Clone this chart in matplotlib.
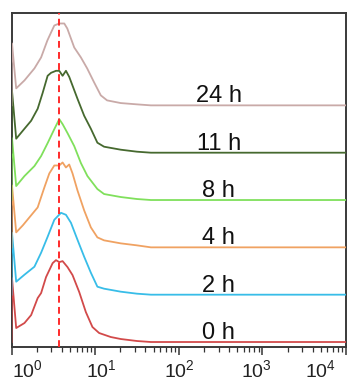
import numpy as np
import matplotlib
matplotlib.use("Agg")
import matplotlib.pyplot as plt
from matplotlib.transforms import ScaledTranslation

plt.rcParams['font.family'] = ['Liberation Sans', 'DejaVu Sans']
plt.rcParams['mathtext.fontset'] = 'custom'
plt.rcParams['mathtext.rm'] = 'Liberation Sans'
plt.rcParams['mathtext.it'] = 'Liberation Sans'

# ---- data (log10 fluorescence, relative counts) ----
labels = ["0 h", "2 h", "4 h", "8 h", "11 h", "24 h"]
colors = ["#d24a4a", "#38bde8", "#f0a262", "#80e05c", "#46692f", "#c9aaa8"]

log_0h = [0, 0.006, 0.056, 0.155, 0.235, 0.313, 0.354, 0.413, 0.492, 0.532, 0.571, 0.611,
          0.670, 0.730, 0.810, 0.889, 0.968, 1.048, 1.187, 1.306, 1.5, 1.667, 4]
cnt_0h = [0, 64, 14, 19, 27, 44, 49, 65, 79, 82, 80, 81, 75, 67, 50, 30, 15, 9, 5, 3, 1, 0, 0]

log_2h = [0, 0.006, 0.056, 0.155, 0.274, 0.354, 0.432, 0.512, 0.592, 0.651, 0.711, 0.789,
          0.869, 0.949, 1.027, 1.107, 1.306, 1.5, 1.667, 4]
cnt_2h = [0, 62, 13, 20, 28, 42, 58, 75, 82, 80, 72, 55, 38, 22, 8, 6, 3, 1, 0, 0]

log_4h = [0, 0.006, 0.056, 0.135, 0.214, 0.313, 0.393, 0.452, 0.512, 0.571, 0.611, 0.651,
          0.690, 0.730, 0.789, 0.869, 0.949, 1.027, 1.107, 1.306, 1.5, 1.667, 4]
cnt_4h = [0, 62, 15, 22, 30, 40, 60, 74, 82, 82, 85, 80, 83, 74, 57, 37, 20, 10, 7, 4, 2, 0, 0]

log_8h = [0, 0.006, 0.056, 0.155, 0.274, 0.354, 0.432, 0.512, 0.571, 0.611, 0.670, 0.750,
          0.830, 0.908, 1.027, 1.107, 1.306, 1.5, 1.667, 4]
cnt_8h = [0, 62, 14, 24, 34, 44, 57, 71, 81, 76, 67, 54, 37, 24, 11, 6, 3, 1, 0, 0]

log_11h = [0, 0.006, 0.056, 0.155, 0.235, 0.313, 0.373, 0.432, 0.473, 0.532, 0.571, 0.611,
           0.651, 0.690, 0.789, 0.869, 0.949, 1.027, 1.107, 1.306, 1.5, 1.667, 4]
cnt_11h = [0, 62, 14, 24, 32, 44, 60, 77, 80, 82, 82, 77, 82, 76, 54, 37, 24, 10, 6, 3, 1, 0, 0]

log_24h = [0, 0.006, 0.056, 0.155, 0.274, 0.354, 0.429, 0.473, 0.512, 0.571, 0.631, 0.667,
           0.750, 0.830, 0.905, 0.988, 1.068, 1.143, 1.306, 1.5, 1.667, 4]
cnt_24h = [0, 62, 17, 25, 37, 48, 65, 73, 80, 82, 82, 77, 58, 48, 37, 23, 10, 5, 2.3, 1, 0, 0]

series_logs = [log_0h, log_2h, log_4h, log_8h, log_11h, log_24h]
series_cnts = [cnt_0h, cnt_2h, cnt_4h, cnt_8h, cnt_11h, cnt_24h]

peak_ref = 3.73          # dashed reference line (fluorescence)
decades = [0, 1, 2, 3, 4]

# ---- figure ----
W, H = 348, 385
fig = plt.figure(figsize=(W / 100, H / 100), dpi=100)
ax = fig.add_axes([11.5 / W, (H - 347) / H, (346 - 11.5) / W, (347 - 12.5) / H])

step = 47.4
base = 5.0
for i, (lg, c) in enumerate(zip(series_logs, series_cnts)):
    x = 10 ** np.array(lg)
    y = np.array(c) + base + i * step
    ax.plot(x, y, color=colors[i], lw=1.3, solid_joinstyle='round', zorder=3)
    ax.text(300, base + i * step + 3, labels[i], fontsize=17, ha='center',
            va='baseline', color='#111111', zorder=4)

ax.axvline(peak_ref, color='#ff2a2a', lw=1.4, ls=(0, (3.5, 2.2)), zorder=5)

ax.set_xscale('log')
ax.set_xlim(10 ** decades[0], 10 ** decades[-1])
ax.set_ylim(0, 335)
ax.set_yticks([])

for s in ax.spines.values():
    s.set_color('#3a3a3a')
    s.set_linewidth(1.4)

ax.set_xticks([10 ** d for d in decades])
ax.set_xticklabels([])
ax.tick_params(axis='x', which='major', direction='out', length=6, width=1.1, color='#333333')
ax.tick_params(axis='x', which='minor', direction='out', length=3.5, width=0.9, color='#333333')

offsets = [16, 6, 1, -6, -26]
for d, off in zip(decades, offsets):
    tr = ax.get_xaxis_transform() + ScaledTranslation(off / 100, 0, fig.dpi_scale_trans)
    ax.text(10 ** d, -0.035, r'$10^{%d}$' % d, transform=tr, ha='center', va='top',
            fontsize=14, color='#222222')

fig.savefig('out.png', dpi=100)
